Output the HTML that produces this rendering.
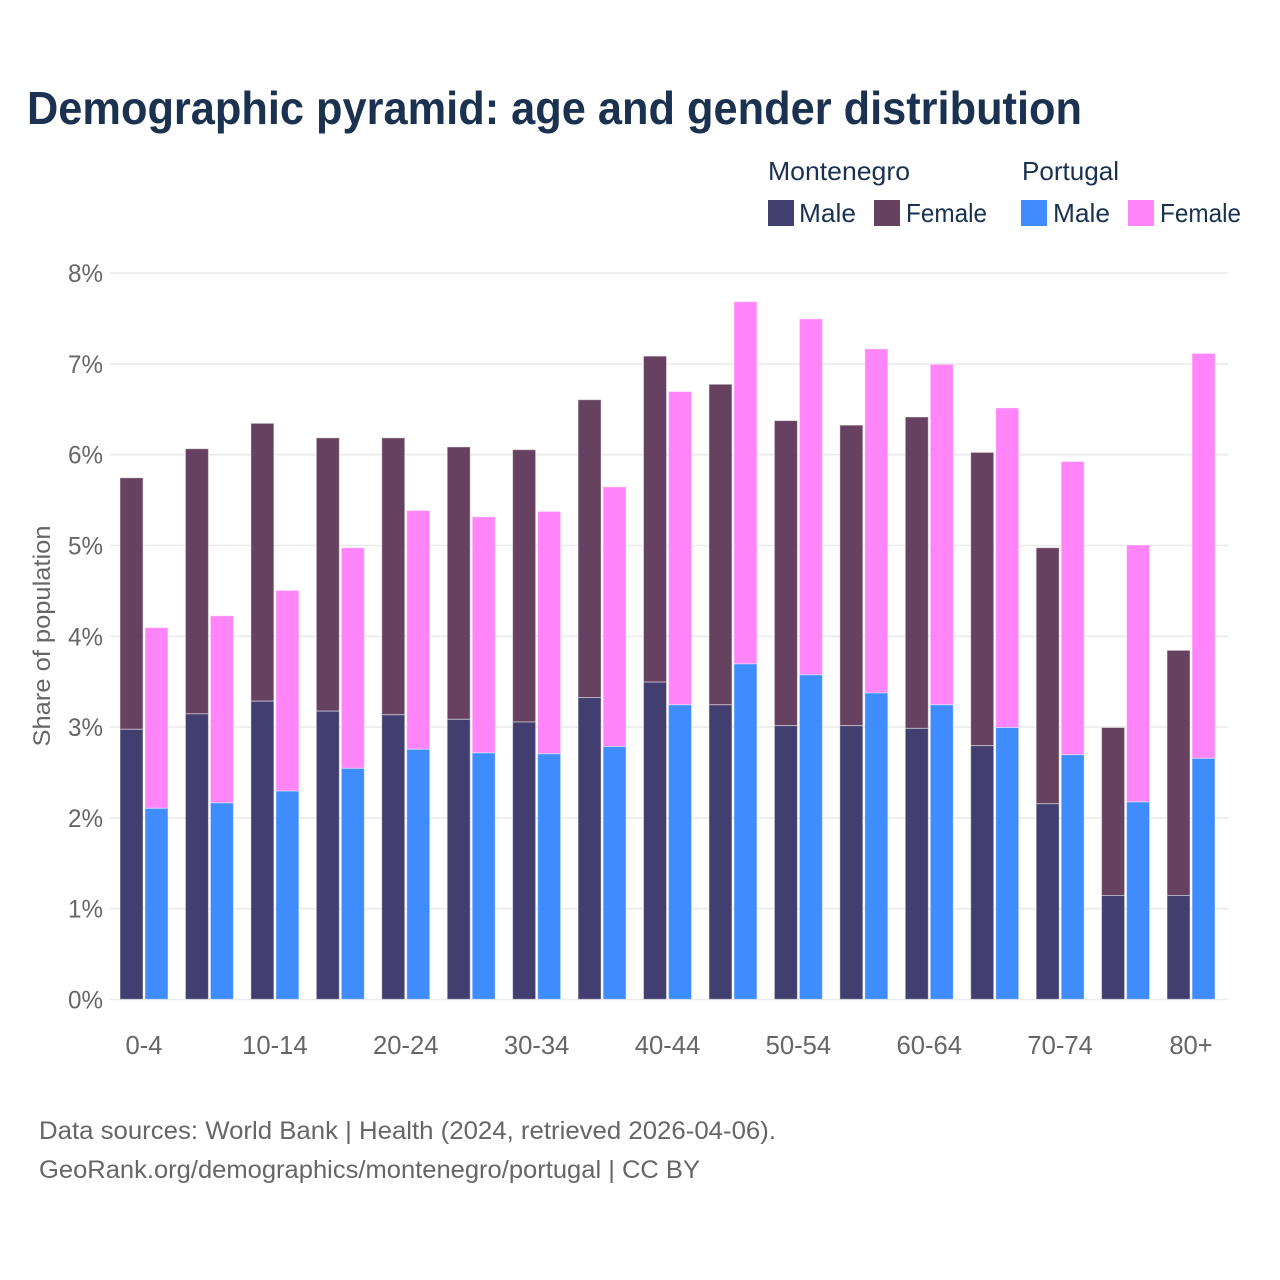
<!DOCTYPE html>
<html lang="en">
<head>
<meta charset="utf-8">
<title>Demographic pyramid</title>
<style>
html,body{margin:0;padding:0;background:#fff;}
svg{display:block;}
text{font-family:"Liberation Sans",sans-serif;}
</style>
</head>
<body>
<svg id="chart" width="1280" height="1280" viewBox="0 0 1280 1280" xmlns="http://www.w3.org/2000/svg">
<rect x="0" y="0" width="1280" height="1280" fill="#fff"/>
<text x="27" y="124" font-size="46" font-weight="700" fill="#1a3150" textLength="1055" lengthAdjust="spacingAndGlyphs">Demographic pyramid: age and gender distribution</text>

<g>
<text x="768" y="180" font-size="26" fill="#1a3150" textLength="142" lengthAdjust="spacingAndGlyphs">Montenegro</text>
<text x="1022" y="180" font-size="26" fill="#1a3150" textLength="97" lengthAdjust="spacingAndGlyphs">Portugal</text>
<rect x="768" y="200" width="26" height="26" fill="#423e70"/>
<text x="799" y="222" font-size="26" fill="#1a3150" textLength="57" lengthAdjust="spacingAndGlyphs">Male</text>
<rect x="874" y="200" width="26" height="26" fill="#674260"/>
<text x="906" y="222" font-size="26" fill="#1a3150" textLength="81" lengthAdjust="spacingAndGlyphs">Female</text>
<rect x="1021" y="200" width="26" height="26" fill="#3f8cff"/>
<text x="1053" y="222" font-size="26" fill="#1a3150" textLength="57" lengthAdjust="spacingAndGlyphs">Male</text>
<rect x="1128" y="200" width="26" height="26" fill="#ff85f8"/>
<text x="1160" y="222" font-size="26" fill="#1a3150" textLength="81" lengthAdjust="spacingAndGlyphs">Female</text>
</g>

<g id="grid"></g>
<g id="y-labels"></g>
<g id="x-labels"></g>
<g id="bars"></g>

<text transform="translate(50,636) rotate(-90)" text-anchor="middle" font-size="24" fill="#666" textLength="221" lengthAdjust="spacingAndGlyphs">Share of population</text>

<text x="39" y="1139" font-size="25" fill="#666" textLength="737" lengthAdjust="spacingAndGlyphs">Data sources: World Bank | Health (2024, retrieved 2026-04-06).</text>
<text x="39" y="1178" font-size="25" fill="#666" textLength="661" lengthAdjust="spacingAndGlyphs">GeoRank.org/demographics/montenegro/portugal | CC BY</text>
</svg>
<script>
const ageGroups = ["0-4","5-9","10-14","15-19","20-24","25-29","30-34","35-39","40-44","45-49","50-54","55-59","60-64","65-69","70-74","75-79","80+"];
const xTickLabels = ["0-4","10-14","20-24","30-34","40-44","50-54","60-64","70-74","80+"];
const yTicks = [0,1,2,3,4,5,6,7,8];
const montenegroMale = [2.98,3.15,3.29,3.18,3.14,3.09,3.06,3.33,3.50,3.25,3.02,3.02,2.99,2.80,2.16,1.15,1.15];
const montenegroFemale = [2.77,2.92,3.06,3.01,3.05,3.00,3.00,3.28,3.59,3.53,3.36,3.31,3.43,3.23,2.82,1.85,2.70];
const portugalMale = [2.11,2.17,2.30,2.55,2.76,2.72,2.71,2.79,3.25,3.70,3.58,3.38,3.25,3.00,2.70,2.18,2.66];
const portugalFemale = [1.99,2.06,2.21,2.43,2.63,2.60,2.67,2.86,3.45,3.99,3.92,3.79,3.75,3.52,3.23,2.83,4.46];

const svgNS = "http://www.w3.org/2000/svg";
const yScale = function (v) { return 999.9 - v * 90.8; };
const groupX = function (i) { return 120 + i * 65.44; };
const BAR_W = 23;
const PORTUGAL_OFFSET = 25;
const EDGE = "rgba(255,255,255,0.45)";

function makeEl(tag, attrs, parent) {
  const el = document.createElementNS(svgNS, tag);
  Object.keys(attrs).forEach(function (k) { el.setAttribute(k, attrs[k]); });
  parent.appendChild(el);
  return el;
}

const gridG = document.getElementById("grid");
const yLabelG = document.getElementById("y-labels");
yTicks.forEach(function (t) {
  const line = makeEl("line", {x1: 110, x2: 1228, y1: yScale(t) - 0.4, y2: yScale(t) - 0.4, stroke: "#ebebeb", "stroke-width": 1.6}, gridG);
  
  
  const label = makeEl("text", {x: 103, y: yScale(t) + 8.6, "text-anchor": "end", "font-size": 25, fill: "#666", textLength: 35, lengthAdjust: "spacingAndGlyphs"}, yLabelG);
  label.textContent = t + "%";
  
  
});

const xLabelG = document.getElementById("x-labels");
ageGroups.forEach(function (g, i) {
  if (xTickLabels.indexOf(g) < 0) return;
  const label = makeEl("text", {x: groupX(i) + 24, y: 1054, "text-anchor": "middle", "font-size": 25.6, fill: "#666"}, xLabelG);
  label.textContent = g;
  
  
});

const barsG = document.getElementById("bars");
function drawStack(male, female, offset, maleColor, femaleColor) {
  ageGroups.forEach(function (g, i) {
    const x = groupX(i) + offset;
    const top = male[i] + female[i];
    const f = makeEl("rect", {x: x, y: yScale(top), width: BAR_W, height: yScale(male[i]) - yScale(top), fill: femaleColor, stroke: EDGE, "stroke-width": 1}, barsG);
    
    
    const m = makeEl("rect", {x: x, y: yScale(male[i]), width: BAR_W, height: yScale(0) - yScale(male[i]) - 0.6, fill: maleColor, stroke: EDGE, "stroke-width": 1}, barsG);
    
    
  });
}
drawStack(montenegroMale, montenegroFemale, 0, "#423e70", "#674260");
drawStack(portugalMale, portugalFemale, PORTUGAL_OFFSET, "#3f8cff", "#ff85f8");
</script>
</body>
</html>
